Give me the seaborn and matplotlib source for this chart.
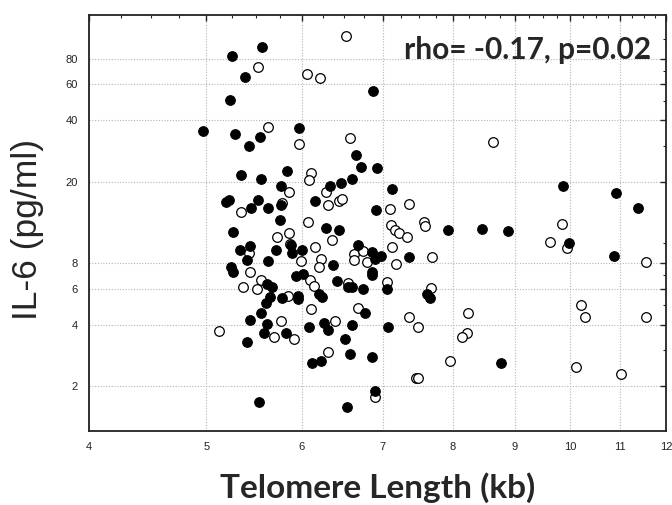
import numpy as np
import pandas as pd
import matplotlib
matplotlib.use("Agg")
import matplotlib.pyplot as plt
import matplotlib.ticker as mticker
import seaborn as sns

# Telomere length (kb) and IL-6 (pg/ml) - filled circles
filled_tl = [5.25, 5.56, 5.38, 6.87, 5.23, 4.97, 5.28, 5.54, 5.42, 5.97,
             6.65, 6.72, 6.92, 5.34, 5.55, 5.83, 5.77, 6.33, 6.46, 6.60,
             5.22, 5.19, 5.52, 5.77, 5.45, 5.62, 6.15, 6.91, 5.75, 6.28,
             6.44, 5.26, 7.12, 9.87, 10.92, 11.37, 7.93, 8.46, 8.88, 9.97,
             10.86, 6.85, 6.90, 6.97, 7.36, 6.86, 6.86, 7.05, 7.61, 7.65,
             7.07, 6.86, 8.77, 6.90, 5.43, 5.33, 5.40, 5.71, 5.88, 5.89,
             6.00, 5.62, 6.37, 6.67, 5.24, 5.26, 5.61, 5.67, 5.93, 6.01,
             6.41, 6.55, 6.60, 6.74, 5.65, 5.78, 5.96, 5.96, 6.20, 6.23,
             5.60, 5.55, 6.76, 5.43, 5.61, 5.58, 5.82, 6.08, 6.26, 6.31,
             6.60, 5.40, 6.51, 6.57, 6.12, 6.22, 5.53, 6.54]
filled_il6 = [83.0, 91.0, 65.5, 55.6, 50.2, 35.4, 34.3, 33.3, 30.1, 36.6,
              27.1, 23.7, 23.3, 21.7, 20.7, 22.6, 19.2, 19.2, 19.8, 20.7,
              16.4, 15.9, 16.3, 15.4, 14.9, 14.9, 16.1, 14.5, 13.0, 11.95,
              11.7, 11.4, 18.4, 19.0, 17.6, 14.9, 11.65, 11.8, 11.45, 10.1,
              8.7, 9.05, 8.4, 8.7, 8.55, 7.25, 7.0, 6.0, 5.65, 5.4,
              3.89, 2.79, 2.59, 1.89, 9.77, 9.24, 8.33, 9.24, 9.83, 8.95,
              9.26, 8.21, 7.84, 9.83, 7.63, 7.25, 6.31, 6.15, 6.96, 7.07,
              6.56, 6.11, 6.15, 6.0, 5.47, 5.4, 5.56, 5.38, 5.65, 5.45,
              5.10, 4.57, 4.56, 4.20, 4.05, 3.65, 3.66, 3.89, 4.07, 3.77,
              3.99, 3.28, 3.40, 2.89, 2.60, 2.67, 1.68, 1.58]

# open circles
open_tl = [6.52, 5.52, 6.06, 6.21, 5.62, 5.97, 6.57, 6.11, 6.08, 5.85,
           6.28, 5.78, 5.34, 6.31, 6.44, 6.47, 6.07, 5.85, 8.64, 7.36,
           7.09, 9.84, 7.11, 7.57, 7.59, 7.16, 7.22, 7.33, 9.62, 9.94,
           11.56, 7.12, 7.68, 7.17, 7.05, 7.67, 10.2, 10.28, 11.56, 8.23,
           7.35, 7.49, 8.21, 8.13, 7.96, 10.11, 11.02, 7.45, 7.49, 6.90,
           5.72, 6.15, 6.35, 5.86, 5.42, 5.99, 6.22, 6.20, 6.63, 6.63,
           6.74, 6.79, 5.43, 5.55, 5.36, 5.51, 6.09, 6.14, 6.55, 5.84,
           6.11, 6.67, 5.76, 5.12, 5.69, 5.91, 6.39, 6.31]
open_il6 = [103.0, 72.9, 67.6, 64.3, 37.0, 30.5, 32.9, 22.0, 20.4, 17.9,
            17.9, 15.7, 14.2, 15.4, 16.1, 16.5, 12.8, 11.3, 31.5, 15.6,
            14.7, 12.5, 12.3, 12.8, 12.2, 11.6, 11.2, 10.7, 10.2, 9.54,
            8.1, 9.65, 8.55, 7.94, 6.48, 6.08, 5.0, 4.37, 4.37, 4.59,
            4.35, 3.89, 3.66, 3.50, 2.67, 2.49, 2.29, 2.19, 2.19, 1.78,
            10.7, 9.66, 10.4, 9.9, 8.95, 8.22, 8.44, 7.70, 8.85, 8.30,
            9.19, 8.07, 7.28, 6.65, 6.15, 6.01, 6.65, 6.17, 6.41, 5.56,
            4.78, 4.85, 4.19, 3.75, 3.50, 3.40, 4.18, 2.96]

x_ticks = [4, 5, 6, 7, 8, 9, 10, 11, 12]
y_ticks = [2, 4, 6, 8, 20, 40, 60, 80]
y_minor = [3, 5, 7, 10, 30, 50, 70, 100]
annotation = "rho= -0.17, p=0.02"
x_label = "Telomere Length (kb)"
y_label = "IL-6 (pg/ml)"

df = pd.concat([
    pd.DataFrame({"tl": filled_tl, "il6": filled_il6, "grp": "filled"}),
    pd.DataFrame({"tl": open_tl, "il6": open_il6, "grp": "open"}),
], ignore_index=True)

sns.set_style("white")
plt.rcParams["font.family"] = ["Liberation Sans", "DejaVu Sans"]

fig = plt.figure(figsize=(6.72, 5.05), dpi=100)
ax = fig.add_axes([89/672, 1 - 431/505, (666 - 89)/672, (431 - 15)/505])

sns.scatterplot(data=df[df.grp == "open"], x="tl", y="il6", ax=ax,
                color="white", edgecolor="black", linewidth=0.9, s=48,
                marker="o", zorder=3, legend=False)
sns.scatterplot(data=df[df.grp == "filled"], x="tl", y="il6", ax=ax,
                color="black", edgecolor="black", linewidth=0.8, s=48,
                marker="o", zorder=4, legend=False)

ax.set_xscale("log")
ax.set_yscale("log")
ax.set_xlim(4, 12)
ax.set_ylim(1.21, 131)

ax.xaxis.set_major_locator(mticker.FixedLocator(x_ticks))
ax.xaxis.set_major_formatter(mticker.FixedFormatter([str(v) for v in x_ticks]))
ax.xaxis.set_minor_locator(mticker.FixedLocator(list(np.arange(4, 12.01, 0.25))))
ax.xaxis.set_minor_formatter(mticker.NullFormatter())
ax.yaxis.set_major_locator(mticker.FixedLocator(y_ticks))
ax.yaxis.set_major_formatter(mticker.FixedFormatter([str(v) for v in y_ticks]))
ax.yaxis.set_minor_locator(mticker.FixedLocator(y_minor))
ax.yaxis.set_minor_formatter(mticker.NullFormatter())

ax.tick_params(axis="both", which="major", direction="in", length=4, width=1,
               labelsize=8, top=True, right=True, pad=8, colors="#222222")
ax.tick_params(axis="both", which="minor", direction="in", length=2.5, width=0.8,
               top=True, right=True)

ax.grid(True, which="major", linestyle=(0, (1, 1.5)), color="#b5b5b5", linewidth=0.8)
ax.set_axisbelow(True)
for sp in ax.spines.values():
    sp.set_color("#222222")
    sp.set_linewidth(1.3)

ax.set_xlabel(x_label, fontsize=24, fontweight="bold", family=["Lato", "DejaVu Sans"])
ax.xaxis.set_label_coords(0.5, -0.098)
ax.set_ylabel(y_label, fontsize=25.5)
ax.yaxis.set_label_coords(-0.078, 0.485)
ax.text(0.975, 0.915, annotation, transform=ax.transAxes, ha="right", va="center",
        fontsize=21.5, fontweight="bold", family=["Lato", "DejaVu Sans"])

fig.savefig("out.png", dpi=100)
